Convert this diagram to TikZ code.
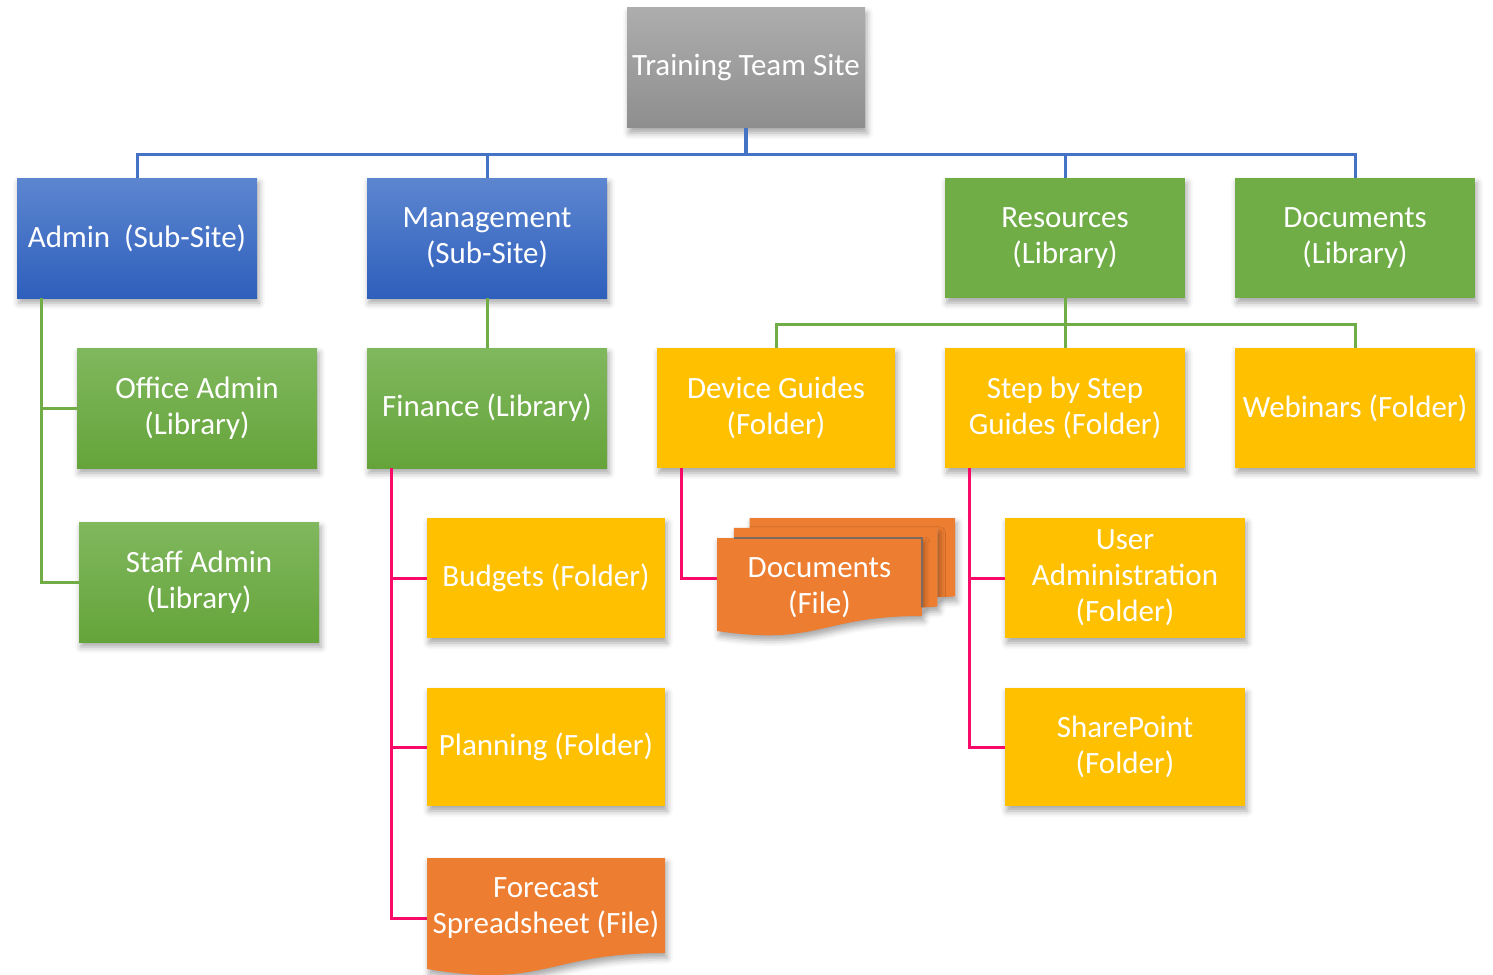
\documentclass[tikz,border=0pt]{standalone}
\usepackage{fontspec}
\setmainfont{Carlito}
\usetikzlibrary{shadows.blur}
\definecolor{grayT}{HTML}{ADADAD}
\definecolor{grayB}{HTML}{8E8E8E}
\definecolor{blueT}{HTML}{5D86D0}
\definecolor{blueB}{HTML}{2E5FBC}
\definecolor{greenT}{HTML}{80B85E}
\definecolor{greenB}{HTML}{65A43A}
\definecolor{greenF}{HTML}{70AD47}
\definecolor{yellowF}{HTML}{FFC000}
\definecolor{orangeF}{HTML}{ED7D31}
\definecolor{blueL}{HTML}{4472C4}
\definecolor{pinkL}{HTML}{F80A68}
\definecolor{edgeG}{HTML}{7A6A60}
\begin{document}
\begin{tikzpicture}[x=0.5pt,y=-0.5pt,
  sh/.style={blur shadow={shadow xshift=1pt, shadow yshift=-2.5pt, shadow blur radius=3pt, shadow opacity=35}},
  box/.style={sh, inner sep=0pt, minimum width=120pt, minimum height=60pt, text=white, align=center, font=\fontsize{15.5}{18}\selectfont},
  graybox/.style={box, top color=grayT, bottom color=grayB, minimum width=119pt},
  bluebox/.style={box, top color=blueT, bottom color=blueB},
  greengrad/.style={box, top color=greenT, bottom color=greenB},
  greenbox/.style={box, fill=greenF},
  yellowbox/.style={box, fill=yellowF},
  filetext/.style={inner sep=0pt, text=white, align=center, font=\fontsize{15.5}{18}\selectfont},
  blueline/.style={draw=blueL, line width=1.5pt},
  greenline/.style={draw=greenF, line width=1.5pt},
  pinkline/.style={draw=pinkL, line width=1.5pt}
]
\useasboundingbox (0,0) rectangle (1493,974);

% file shapes
\fill[orangeF, sh] (427,858) -- (665,858) -- (665,953) .. controls (546,953) and (546,989) .. (427,969) -- cycle;
\fill[orangeF, sh] (749.7,527.9) -- (749.7,518) -- (955,518) -- (955,596.4) -- (937.4,597.3) -- (937.4,527.9) -- cycle;
\fill[orangeF, sh] (733.9,538) -- (733.9,527.9) -- (937.4,527.9) -- (937.4,606.5) -- (921.9,607.6) -- (921.9,538) -- cycle;
\fill[orangeF, sh] (717,631) .. controls (819.5,646.2) and (819.5,616) .. (921.9,616) -- (921.9,538) -- (717,538) -- cycle;
\draw[edgeG, line width=0.6pt] (733.9,538) -- (921.9,538) -- (921.9,607);

% nodes
\node[graybox] (top) at (746,68) {Training Team Site};
\node[bluebox] (admin) at (137,238) {Admin\ \ (Sub-Site)};
\node[bluebox] (mgmt) at (487,238) {Management\\(Sub-Site)};
\node[greenbox] (res) at (1065,238) {Resources\\(Library)};
\node[greenbox] (docs) at (1355,238) {Documents\\(Library)};
\node[greengrad] (office) at (197,408) {Office Admin\\(Library)};
\node[greengrad] (staff) at (199,582) {Staff Admin\\(Library)};
\node[greengrad] (finance) at (487,408) {Finance (Library)};
\node[yellowbox, minimum width=119pt] (devg) at (776,408) {Device Guides\\(Folder)};
\node[yellowbox] (step) at (1065,408) {Step by Step\\Guides (Folder)};
\node[yellowbox] (web) at (1355,408) {Webinars (Folder)};
\node[yellowbox, minimum width=119pt] (budgets) at (546,578) {Budgets (Folder)};
\node[yellowbox, minimum width=119pt, minimum height=59pt] (planning) at (546,747) {Planning (Folder)};
\node[yellowbox] (usera) at (1125,578) {User\\Administration\\(Folder)};
\node[yellowbox, minimum height=59pt] (sharep) at (1125,747) {SharePoint\\(Folder)};
\node[filetext, minimum width=119pt] (forecast) at (546,908) {Forecast\\Spreadsheet (File)};
\node[filetext, minimum width=102.45pt] (docfile) at (819.45,588) {Documents\\(File)};

% connectors
\draw[blueline, line width=2pt] (top.south) -- ++(0,26);
\foreach \n in {admin,mgmt,res,docs}
  \draw[blueline] (top.south) -- ++(0,26) -| (\n.north);
\draw[greenline] ([xshift=12.5pt]admin.south west) |- (office.west);
\draw[greenline] ([xshift=12.5pt]admin.south west) |- (staff.west);
\draw[greenline] (mgmt.south) -- (finance.north);
\foreach \n in {devg,step,web}
  \draw[greenline] (res.south) -- ++(0,26) -| (\n.north);
\draw[pinkline] ([xshift=12.5pt]finance.south west) |- (budgets.west);
\draw[pinkline] ([xshift=12.5pt]finance.south west) |- (planning.west);
\draw[pinkline] ([xshift=12.5pt]finance.south west) |- ([yshift=-5pt]forecast.west);
\draw[pinkline] ([xshift=12.5pt]devg.south west) |- ([yshift=5pt]docfile.west);
\draw[pinkline] ([xshift=12.5pt]step.south west) |- (usera.west);
\draw[pinkline] ([xshift=12.5pt]step.south west) |- (sharep.west);
\end{tikzpicture}
\end{document}
